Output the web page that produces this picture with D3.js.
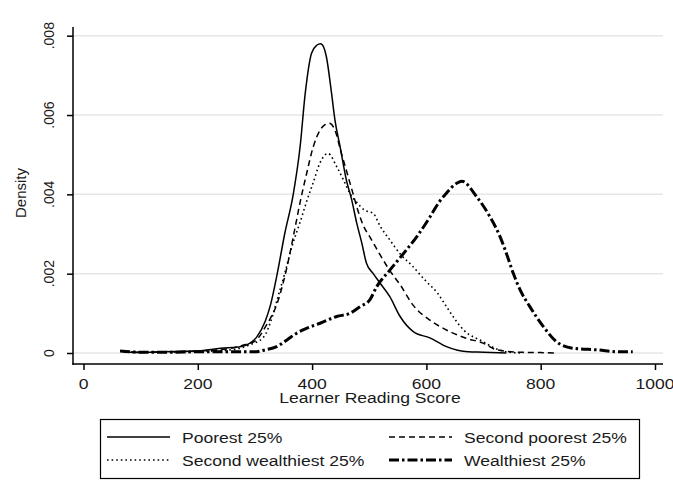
<!DOCTYPE html>
<html>
<head>
<meta charset="utf-8">
<script src="https://cdn.jsdelivr.net/npm/d3@7"></script>
<style>
  html,body{margin:0;padding:0;background:#fff;}
  svg{display:block;font-family:"Liberation Sans", Arial, sans-serif;}
</style>
</head>
<body>
<div id="chart"></div>
<script>
// kernel density of reading scores by wealth quartile
const xTicks = [0, 200, 400, 600, 800, 1000];
const yTicks = [0, 0.002, 0.004, 0.006, 0.008];
const yTickLabels = ['0', '.002', '.004', '.006', '.008'];
const seriesNames = ['Poorest 25%', 'Second poorest 25%', 'Second wealthiest 25%', 'Wealthiest 25%'];

const poorest = [[64,0.00006],[90,0.00001],[120,0.00002],[160,0.00004],[200,0.00005],[240,0.00012],[270,0.00015],
  [285,0.0002],[303,0.0004],[318,0.0008],[327,0.0012],[339,0.002],[352,0.003],[367,0.004],[379,0.0052],[388,0.00655],
  [399,0.00756],[408,0.00776],[415,0.0078],[420,0.00772],[425,0.00747],[434,0.00655],[440,0.00587],[449,0.0052],
  [460,0.00436],[469,0.00388],[478,0.00328],[487,0.00277],[495,0.00227],[507,0.002],[519,0.00176],[536,0.00142],
  [554,0.00092],[577,0.00054],[606,0.00038],[635,0.00016],[673,0.00003],[700,0.00002],[740,0]];

const secondPoorest = [[66,0.00005],[100,0.00002],[150,0.00003],[200,0.00005],[250,0.0001],[280,0.0002],[300,0.0003],
  [320,0.0007],[340,0.0013],[355,0.0021],[368,0.003],[379,0.0038],[390,0.0045],[402,0.0052],[414,0.00562],[422,0.00575],
  [430,0.00579],[440,0.00562],[450,0.0051],[460,0.0046],[470,0.0041],[480,0.0036],[490,0.0032],[501,0.00293],
  [518,0.0025],[535,0.0021],[555,0.0017],[577,0.0012],[606,0.00083],[635,0.00058],[670,0.00037],[699,0.00025],
  [723,0.00008],[760,0.00002],[800,0.00001],[830,0]];

const secondWealthiest = [[70,0.00003],[120,0.00002],[200,0.00004],[240,0.00006],[268,0.0001],[290,0.0002],[315,0.0004],
  [330,0.0009],[340,0.0014],[352,0.002],[365,0.0027],[379,0.0033],[390,0.0038],[402,0.0043],[414,0.0048],[428,0.00503],
  [443,0.0047],[455,0.00436],[466,0.00403],[478,0.0038],[492,0.0036],[507,0.00352],[519,0.0032],[536,0.00285],
  [554,0.0025],[575,0.0022],[600,0.0018],[620,0.0015],[635,0.00117],[665,0.00058],[700,0.00028],[723,0.0001],
  [745,0.00002],[770,0]];

const wealthiest = [[64,0.00005],[100,0.00002],[150,0.00002],[200,0.00003],[260,0.00003],[300,0.00003],[318,0.00008],
  [338,0.00016],[356,0.00033],[373,0.0005],[390,0.00062],[414,0.00075],[443,0.00092],[466,0.001],[484,0.00117],
  [501,0.00134],[513,0.00167],[536,0.00209],[560,0.00251],[583,0.00293],[605,0.0034],[622,0.0038],[635,0.00403],
  [653,0.00428],[662,0.00433],[688,0.00394],[711,0.00344],[729,0.00293],[740,0.00251],[752,0.00201],[764,0.00159],
  [781,0.00117],[805,0.00066],[828,0.00028],[857,0.00012],[898,0.00008],[939,0.00003],[961,0.00003]];

const seriesData = [poorest, secondPoorest, secondWealthiest, wealthiest];
const STYLES = [
  {w:1.5, dash:null},
  {w:1.5, dash:'6 4'},
  {w:1.6, dash:'1.6 3'},
  {w:3,   dash:'10 3 2.5 3'}
];
const SX = 1.17; // the exported figure is stretched sideways a bit

const W = 673, H = 491;
const svg = d3.select('#chart').append('svg').attr('width', W).attr('height', H);

const x = d3.scaleLinear().domain([0, 1000]).range([83.5, 655]);
const y = d3.scaleLinear().domain([0, 0.008]).range([353, 35.7]);
const axL = 73, axR = 663, axB = 364, axT = 27;

function stext(px, py, str, anchor, size){
  return svg.append('g').attr('transform', `translate(${px},${py}) scale(${SX},1)`)
    .append('text').attr('text-anchor', anchor).attr('font-size', size).attr('fill', '#1a1a1a').text(str);
}

// gridlines
svg.append('g').selectAll('line').data(yTicks).join('line')
  .attr('x1', axL).attr('x2', axR).attr('y1', d=>y(d)).attr('y2', d=>y(d))
  .attr('stroke', '#e6e6e6').attr('stroke-width', 1.5);

// y axis
const yAxis = svg.append('g').attr('transform', `translate(${axL},0)`)
  .call(d3.axisLeft(y).tickValues(yTicks).tickSize(6).tickFormat(''));
yAxis.select('.domain').remove();
yAxis.selectAll('line').attr('stroke', '#000').attr('stroke-width', 1.5);
svg.append('line').attr('x1', axL).attr('x2', axL).attr('y1', axT).attr('y2', axB + 0.75)
  .attr('stroke', '#000').attr('stroke-width', 1.5);
yTicks.forEach((t, i)=>{
  svg.append('text').attr('transform', `translate(54,${y(t)}) rotate(-90)`).attr('text-anchor', 'middle')
    .attr('font-size', 14).attr('fill', '#1a1a1a').text(yTickLabels[i]);
});
svg.append('text').attr('transform', `translate(26,193) rotate(-90)`).attr('text-anchor', 'middle')
  .attr('font-size', 15).attr('fill', '#1a1a1a').text('Density');

// x axis
const xAxis = svg.append('g').attr('transform', `translate(0,${axB})`)
  .call(d3.axisBottom(x).tickValues(xTicks).tickSize(6).tickFormat(''));
xAxis.select('.domain').remove();
xAxis.selectAll('line').attr('stroke', '#000').attr('stroke-width', 1.5);
svg.append('line').attr('x1', axL - 0.75).attr('x2', axR).attr('y1', axB).attr('y2', axB)
  .attr('stroke', '#000').attr('stroke-width', 1.5);
xTicks.forEach(t=> stext(x(t), 389, String(t), 'middle', 15));
stext(370, 403, 'Learner Reading Score', 'middle', 15);

// density curves
const line = d3.line().x(d=>x(d[0])).y(d=>y(d[1])).curve(d3.curveMonotoneX);
seriesData.forEach((s, i)=>{
  const p = svg.append('path').datum(s).attr('d', line).attr('fill', 'none')
    .attr('stroke', '#000').attr('stroke-width', STYLES[i].w).attr('stroke-linejoin', 'round');
  if(STYLES[i].dash) p.attr('stroke-dasharray', STYLES[i].dash);
});

// legend
const lg = svg.append('g');
lg.append('rect').attr('x', 100.5).attr('y', 419.5).attr('width', 539).attr('height', 59)
  .attr('fill', '#fff').attr('stroke', '#000').attr('stroke-width', 1.2);
const slots = [{x:107, y:437}, {x:389, y:437}, {x:107, y:460}, {x:389, y:460}];
seriesNames.forEach((nm, i)=>{
  const s = slots[i];
  const l = lg.append('line').attr('x1', s.x).attr('x2', s.x + 63).attr('y1', s.y).attr('y2', s.y)
    .attr('stroke', '#000').attr('stroke-width', STYLES[i].w);
  if(STYLES[i].dash) l.attr('stroke-dasharray', STYLES[i].dash);
  stext(s.x + 75, s.y + 5.5, nm, 'start', 15);
});
</script>
</body>
</html>
